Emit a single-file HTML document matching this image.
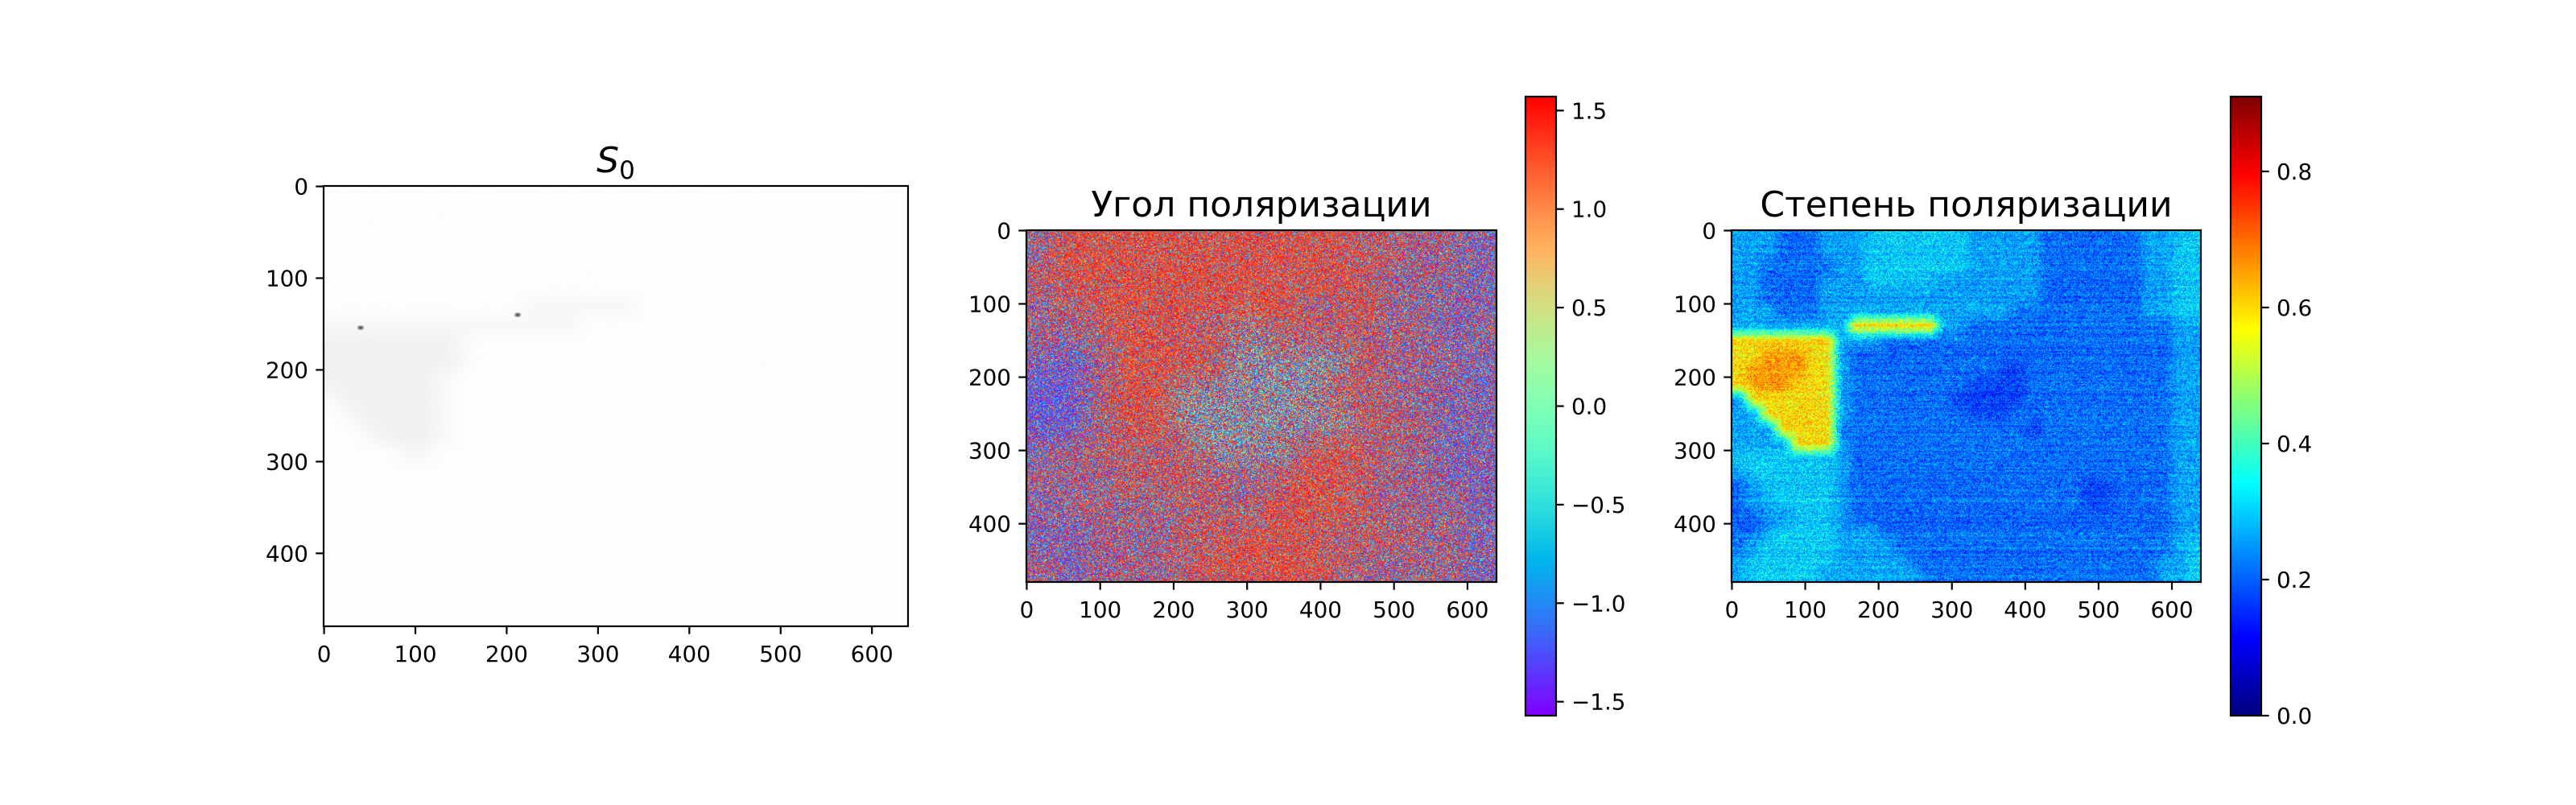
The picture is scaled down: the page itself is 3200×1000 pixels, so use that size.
<!DOCTYPE html>
<html><head><meta charset="utf-8">
<style>
html,body{margin:0;padding:0;background:#fff;}
#fig{position:relative;width:3200px;height:1000px;overflow:hidden;background:#fff;font-family:"DejaVu Sans","Liberation Sans",sans-serif;}
canvas{position:absolute;}
svg{position:absolute;left:0;top:0;}
</style></head>
<body>
<div id="fig">
<canvas id="c1" width="640" height="480" style="left:402px;top:231px;width:726px;height:547px"></canvas>
<canvas id="c2" width="640" height="480" style="left:1275px;top:286px;width:584px;height:437px"></canvas>
<canvas id="c3" width="640" height="480" style="left:2151px;top:286px;width:583px;height:437px"></canvas>
<canvas id="cb1" width="38" height="769" style="left:1895px;top:120px;width:38px;height:769px"></canvas>
<canvas id="cb2" width="38" height="769" style="left:2771px;top:120px;width:38px;height:769px"></canvas>
<svg id="ov" width="3200" height="1000"></svg>
</div>
<script>
// ---- data ----
const xTicks = [0,100,200,300,400,500,600];
const yTicks = [0,100,200,300,400];
const angleCbTicks = [-1.5,-1.0,-0.5,0.0,0.5,1.0,1.5];
const degreeCbTicks = [0.0,0.2,0.4,0.6,0.8];
const angleRange = [-1.5708,1.5708];
const degreeRange = [0,0.91];
const titles = ["S0","Угол поляризации","Степень поляризации"];
const s0Grid = [
"00000000000000000000000000000000","00000000000000000000000000000000",
"00000000000000000000000000000000","00000000000000000000000000000000",
"00000000000000000000000000000000","00000000000000000000000000000000",
"00000000000111111000000000000000","11111111111111000000000000000000",
"22222221000000000000000000000000","22222221000000000000000000000000",
"22222210000000000000000000000000","12222210000000000000000000000000",
"01222210000000000000000000000000","00122210000000000000000000000000",
"00001100000000000000000000000000","00000000000000000000000000000000",
"00000000000000000000000000000000","00000000000000000000000000000000",
"00000000000000000000000000000000","00000000000000000000000000000000",
"00000000000000000000000000000000","00000000000000000000000000000000",
"00000000000000000000000000000000","00000000000000000000000000000000"];
const s0Levels = {"0":0.993,"1":0.972,"2":0.945};
const s0Spots = [[212,140],[40,154]];
const angleGrid = [
"mRRRRRRRRRRrrmmb","rRRRRRRRRRRrmmmb","mrRRRRRRRrrRmmbb","mmrRRrrcrrrrmmbm",
"bBmRRRrccccrmmmb","BBrRRcccccrrmmbb","BBmRRccccccrrmbb","bmrrrrcccrRrmmbb",
"mmmrrrrmrRRrmmbb","bmmmmrrmRRRrmmmb","bbmmmrrRRRrrrmmb","mbmmmrRRRRrmmmmb"];
const angleRed = {R:0.74,r:0.6,m:0.47,b:0.33,B:0.2,c:0.35};
const angleCyan = {R:0.07,r:0.1,m:0.12,b:0.12,B:0.1,c:0.35};
const degreeGrid = [
"33322233344444443333322222223344","33322233344444443333322222223344",
"33222223344444443333322222223344","33222233344444333333322222223344",
"33222233333333333333322222223344","33322233333333333332222222223344",
"33333333666666332222222222222233","66666663332222222222222222222233",
"66777663222222222222222222222233","67777663222222222211222222222233",
"67776663222222221111222222222233","36666663222222211111222222222233",
"33666663222222221112222222222233","33366662222222222222122222222233",
"33336663222222222222222222222233","44444443222222222222222222222233",
"34444443222222222222222222222233","23444443222222222222222211222233",
"23344443222222222222222211222233","22334443222222222222222222222233",
"22344443332222222222222222222233","23444443333222222222222222222234",
"34444443333322222222222222222334","34444433333332222222222222222334"];
const degreeLevels = {"1":0.17,"2":0.21,"3":0.26,"4":0.3,"6":0.59,"7":0.66};

// ---- helpers ----
function hash(x,y,s){let n=(Math.imul(x,374761393)+Math.imul(y,668265263)+Math.imul(s,1442695041))|0;n=Math.imul(n^(n>>>13),1274126177);n=n^(n>>>16);return (n>>>0)/4294967296;}
const cl=v=>Math.max(0,Math.min(1,v));
function jet(t){t=cl(t);return [cl(1.5-Math.abs(4*t-3)),cl(1.5-Math.abs(4*t-2)),cl(1.5-Math.abs(4*t-1))];}
function rainbow(t){t=cl(t);return [cl(Math.abs(2*t-0.5)),Math.sin(Math.PI*t),Math.cos(Math.PI*t/2)];}
// bilinear lookup of a char grid through a value map
function bil(grid,map,cell,x,y){const rows=grid.length,cols=grid[0].length;
 let gx=x/cell-0.5,gy=y/cell-0.5;gx=Math.max(0,Math.min(cols-1,gx));gy=Math.max(0,Math.min(rows-1,gy));
 const x0=Math.floor(gx),y0=Math.floor(gy),x1=Math.min(cols-1,x0+1),y1=Math.min(rows-1,y0+1),fx=gx-x0,fy=gy-y0;
 const a=map[grid[y0][x0]],b=map[grid[y0][x1]],c=map[grid[y1][x0]],d=map[grid[y1][x1]];
 return (a*(1-fx)+b*fx)*(1-fy)+(c*(1-fx)+d*fx)*fy;}
function fill(id,fn){const c=document.getElementById(id),ctx=c.getContext('2d');const im=ctx.createImageData(c.width,c.height);
 for(let y=0;y<c.height;y++)for(let x=0;x<c.width;x++){const col=fn(x,y),i=(y*c.width+x)*4;im.data[i]=col[0]*255;im.data[i+1]=col[1]*255;im.data[i+2]=col[2]*255;im.data[i+3]=255;}
 ctx.putImageData(im,0,0);}

fill('c1',(x,y)=>{let v=bil(s0Grid,s0Levels,20,x,y)+(hash(x,y,1)-0.5)*0.006;
 for(const s of s0Spots){const d=Math.hypot(x-s[0],(y-s[1])*1.5);if(d<4)v=Math.min(v,0.2+d*0.15);}
 return [v,v,v];});
fill('c2',(x,y)=>{const jx=x+(hash(x,y,7)-0.5)*30,jy=y+(hash(x,y,8)-0.5)*30;
 const pr=bil(angleGrid,angleRed,40,jx,jy),pc=bil(angleGrid,angleCyan,40,jx,jy);
 const u=hash(x,y,2),w=hash(x,y,3);let v;
 if(u<pr)v=1.05+w*0.52;else if(u<pr+pc)v=-0.8+w*1.3;
 else v=-1.57+w*(0.5+pr*0.8);
 return rainbow((v-angleRange[0])/(angleRange[1]-angleRange[0]));});
fill('c3',(x,y)=>{const jx=x+(hash(x,y,6)-0.5)*8;let v=bil(degreeGrid,degreeLevels,20,jx,y)+(hash(x,y,4)-0.5)*0.2+(hash(0,y,5)-0.5)*0.05;
 return jet((v-degreeRange[0])/(degreeRange[1]-degreeRange[0]));});
fill('cb1',(x,y)=>rainbow(1-y/768));
fill('cb2',(x,y)=>jet(1-y/768));

// ---- overlay ----
const NS='http://www.w3.org/2000/svg',ov=document.getElementById('ov');
function el(tag,attrs,txt){const e=document.createElementNS(NS,tag);for(const k in attrs)e.setAttribute(k,attrs[k]);if(txt!==undefined)e.textContent=txt;ov.appendChild(e);return e;}
const fmt=v=>(v<0?'\u2212':'')+Math.abs(v).toFixed(1);
const panels=[{l:402,r:1128,t:231,b:778,n:'s0'},{l:1275,r:1859,t:286,b:723,n:'angle'},{l:2151,r:2734,t:286,b:723,n:'degree'}];
panels.forEach((p,pi)=>{
 const sx=v=>p.l+(v+0.5)/640*(p.r-p.l), sy=v=>p.t+(v+0.5)/480*(p.b-p.t);
 const fr=el('rect',{x:p.l,y:p.t,width:p.r-p.l,height:p.b-p.t,fill:'none',stroke:'#000','stroke-width':2.2});
 
 xTicks.forEach(v=>{const X=sx(v);
  const tk=el('line',{x1:X,x2:X,y1:p.b,y2:p.b+9.7,stroke:'#000','stroke-width':2.2});
  
  const tl=el('text',{x:X,y:p.b+44,'font-size':27.8,'text-anchor':'middle',fill:'#000'},String(v));
  });
 yTicks.forEach(v=>{const Y=sy(v);
  const tk=el('line',{x1:p.l-9.7,x2:p.l,y1:Y,y2:Y,stroke:'#000','stroke-width':2.2});
  
  const tl=el('text',{x:p.l-19,y:Y+10,'font-size':27.8,'text-anchor':'end',fill:'#000'},String(v));
  });
 const cx=(p.l+p.r)/2;let t;
 if(pi===0){t=el('text',{x:cx,y:p.t-17,'font-size':44,'text-anchor':'middle',fill:'#000'});
  const a=document.createElementNS(NS,'tspan');a.setAttribute('font-style','italic');a.textContent='S';t.appendChild(a);
  const b=document.createElementNS(NS,'tspan');b.setAttribute('font-size','31');b.setAttribute('dy','8');b.textContent='0';t.appendChild(b);}
 else t=el('text',{x:cx,y:p.t-17,'font-size':44,'text-anchor':'middle',fill:'#000'},titles[pi]);
 
});
const cbs=[{l:1895,r:1933,t:120,b:889,rng:angleRange,ticks:angleCbTicks,n:'angle-colorbar'},{l:2771,r:2809,t:120,b:889,rng:degreeRange,ticks:degreeCbTicks,n:'degree-colorbar'}];
cbs.forEach(c=>{
 const fr=el('rect',{x:c.l,y:c.t,width:c.r-c.l,height:c.b-c.t,fill:'none',stroke:'#000','stroke-width':2.2});
 
 c.ticks.forEach(v=>{const Y=c.b-(v-c.rng[0])/(c.rng[1]-c.rng[0])*(c.b-c.t);
  const tk=el('line',{x1:c.r,x2:c.r+9.7,y1:Y,y2:Y,stroke:'#000','stroke-width':2.2});
  
  const tl=el('text',{x:c.r+19,y:Y+10,'font-size':27.8,fill:'#000'},fmt(v));
  });
});
</script>
</body></html>
